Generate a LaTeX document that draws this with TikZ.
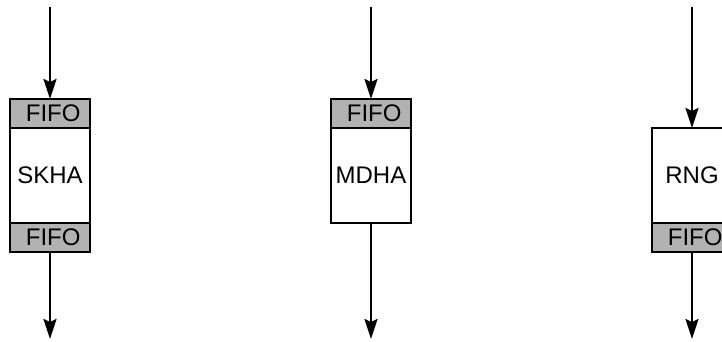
\documentclass[tikz,border=0pt]{standalone}
\usepackage{fontspec}
\setmainfont{Liberation Sans}
\usetikzlibrary{arrows.meta,positioning}

\begin{document}
\begin{tikzpicture}[
    x=1pt, y=1pt,
    node distance=0pt,
    fifo/.style={rectangle, draw=black, fill=black!30, line width=2pt, outer sep=0pt, inner sep=0pt, minimum width=80pt, minimum height=29pt, text width=61pt, align=right, font=\fontsize{24}{26}\selectfont},
    unit/.style={rectangle, draw=black, fill=white, line width=2pt, outer sep=0pt, inner sep=0pt, minimum width=80pt, minimum height=95pt, font=\fontsize{24}{26}\selectfont},
    arr/.style={-{Stealth[length=20pt, width=13pt, inset=3pt]}, line width=2pt}
]
    \clip (0,0) rectangle (722,341);

    % SKHA
    \node [fifo] (skhain) at (50,227.5) {FIFO};
    \node [unit, below=of skhain] (skha) {SKHA};
    \node [fifo, below=of skha] (skhaout) {FIFO};

    % MDHA
    \node [fifo] (mdhain) at (371,227.5) {FIFO};
    \node [unit, below=of mdhain] (mdha) {MDHA};

    % RNG
    \node [unit] (rng) at (692,165.5) {RNG};
    \node [fifo, below=of rng] (rngout) {FIFO};

    \coordinate (skhasrc) at (50,334);
    \coordinate (skhadst) at (50,2);
    \coordinate (mdhasrc) at (371,334);
    \coordinate (mdhadst) at (371,2);
    \coordinate (rngsrc) at (692,334);
    \coordinate (rngdst) at (692,2);

    \draw [arr] (skhasrc) -- (skhain);
    \draw [arr] (skhaout) -- (skhadst);
    \draw [arr] (mdhasrc) -- (mdhain);
    \draw [arr] (mdha) -- (mdhadst);
    \draw [arr] (rngsrc) -- (rng);
    \draw [arr] (rngout) -- (rngdst);
\end{tikzpicture}
\end{document}
